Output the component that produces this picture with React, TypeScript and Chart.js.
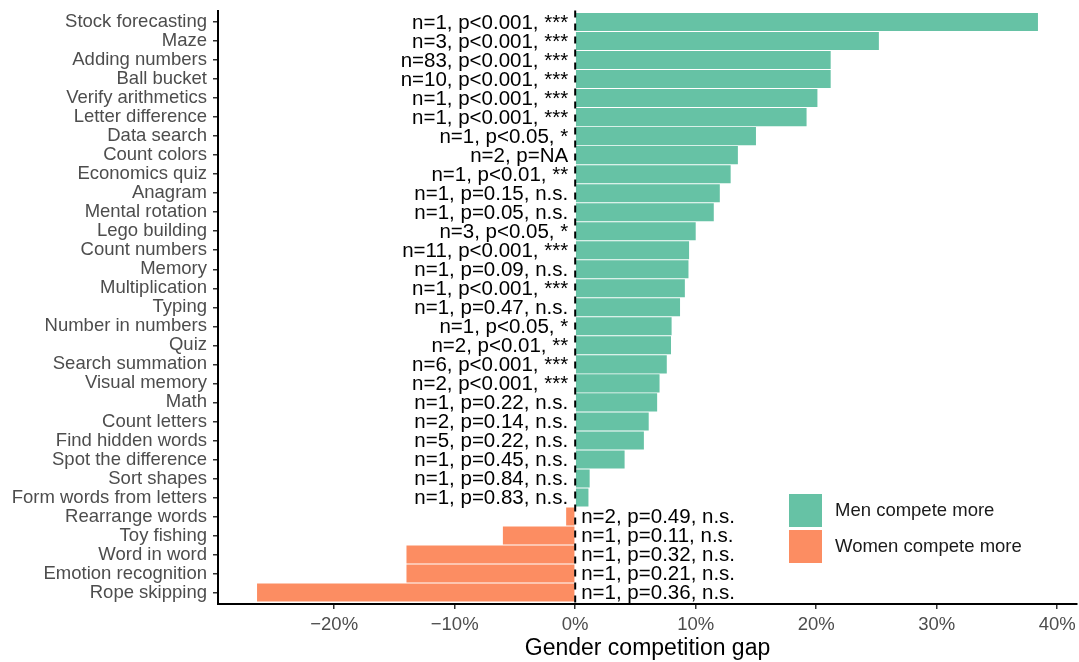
import React, { useEffect, useRef } from "react";
import { Chart, registerables } from "chart.js";

Chart.register(...registerables);

const TASKS = [
  "Stock forecasting", "Maze", "Adding numbers", "Ball bucket", "Verify arithmetics",
  "Letter difference", "Data search", "Count colors", "Economics quiz", "Anagram",
  "Mental rotation", "Lego building", "Count numbers", "Memory", "Multiplication",
  "Typing", "Number in numbers", "Quiz", "Search summation", "Visual memory",
  "Math", "Count letters", "Find hidden words", "Spot the difference", "Sort shapes",
  "Form words from letters", "Rearrange words", "Toy fishing", "Word in word",
  "Emotion recognition", "Rope skipping",
];

const GAPS = [
  38.4, 25.2, 21.2, 21.2, 20.1,
  19.2, 15.0, 13.5, 12.9, 12.0,
  11.5, 10.0, 9.45, 9.4, 9.1,
  8.7, 8.0, 7.95, 7.6, 7.0,
  6.8, 6.1, 5.7, 4.1, 1.2,
  1.1, -0.75, -6.0, -14.0,
  -14.0, -26.4,
];

const N_STUDIES = [
  1, 3, 83, 10, 1,
  1, 1, 2, 1, 1,
  1, 3, 11, 1, 1,
  1, 1, 2, 6, 2,
  1, 2, 5, 1, 1,
  1, 2, 1, 1,
  1, 1,
];

const P_LABELS = [
  "p<0.001", "p<0.001", "p<0.001", "p<0.001", "p<0.001",
  "p<0.001", "p<0.05", "p=NA", "p<0.01", "p=0.15",
  "p=0.05", "p<0.05", "p<0.001", "p=0.09", "p<0.001",
  "p=0.47", "p<0.05", "p<0.01", "p<0.001", "p<0.001",
  "p=0.22", "p=0.14", "p=0.22", "p=0.45", "p=0.84",
  "p=0.83", "p=0.49", "p=0.11", "p=0.32",
  "p=0.21", "p=0.36",
];

const SIG_LABELS = [
  "***", "***", "***", "***", "***",
  "***", "*", "", "**", "n.s.",
  "n.s.", "*", "***", "n.s.", "***",
  "n.s.", "*", "**", "***", "***",
  "n.s.", "n.s.", "n.s.", "n.s.", "n.s.",
  "n.s.", "n.s.", "n.s.", "n.s.",
  "n.s.", "n.s.",
];

const X_TICKS = [-20, -10, 0, 10, 20, 30, 40];
const LEGEND_LABELS = ["Men compete more", "Women compete more"];
const X_TITLE = "Gender competition gap";

const GREEN = "#66C2A5";
const ORANGE = "#FC8D62";
const FONT = "'Liberation Sans', Arial, Helvetica, sans-serif";

const annotationPlugin = {
  id: "annotations",
  afterDatasetsDraw(chart: any) {
    const { ctx, chartArea, scales } = chart;
    const xs = scales.x;
    const ys = scales.y;
    const x0 = xs.getPixelForValue(0);
    ctx.save();
    // dashed zero line
    ctx.beginPath();
    ctx.setLineDash([7, 6]);
    ctx.lineWidth = 2;
    ctx.strokeStyle = "#000000";
    ctx.moveTo(x0, chartArea.top);
    ctx.lineTo(x0, chartArea.bottom);
    ctx.stroke();
    ctx.setLineDash([]);
    // text labels
    ctx.font = `20.5px ${FONT}`;
    ctx.fillStyle = "#000000";
    ctx.textBaseline = "middle";
    GAPS.forEach((g, i) => {
      const parts = [`n=${N_STUDIES[i]}`, P_LABELS[i]];
      if (SIG_LABELS[i]) parts.push(SIG_LABELS[i]);
      const text = parts.join(", ");
      const y = ys.getPixelForValue(i) + 1;
      if (g >= 0) {
        ctx.textAlign = "right";
        ctx.fillText(text, x0 - 7, y);
      } else {
        ctx.textAlign = "left";
        ctx.fillText(text, x0 + 6, y);
      }
    });
    // legend
    const colors = [GREEN, ORANGE];
    const lx = chartArea.right - 288;
    const ly = chartArea.bottom - 110;
    ctx.font = `18.5px ${FONT}`;
    ctx.textAlign = "left";
    LEGEND_LABELS.forEach((lab, i) => {
      const by = ly + i * 36;
      ctx.fillStyle = colors[i];
      ctx.fillRect(lx, by, 33, 33);
      ctx.fillStyle = "#1a1a1a";
      ctx.fillText(lab, lx + 46, by + 17);
    });
    ctx.restore();
  },
};

export default function App() {
  const canvasRef = useRef<HTMLCanvasElement | null>(null);

  useEffect(() => {
    const canvas = canvasRef.current;
    if (!canvas) return;
    const chart = new Chart(canvas, {
      type: "bar",
      data: {
        datasets: [
          {
            label: LEGEND_LABELS[0],
            data: GAPS.map((g, i) => ({ x: g, y: i })),
            backgroundColor: GAPS.map((g) => (g >= 0 ? GREEN : ORANGE)),
            borderWidth: 0,
            barPercentage: 0.95,
            categoryPercentage: 1,
          },
        ],
      },
      options: {
        indexAxis: "y",
        animation: false,
        responsive: false,
        devicePixelRatio: 1,
        layout: { padding: { left: 0, right: 2, top: 10.6, bottom: 0 } },
        plugins: {
          legend: { display: false },
          tooltip: { enabled: false },
        },
        scales: {
          y: {
            type: "linear",
            reverse: true,
            offset: false,
            min: -0.6,
            max: 30.6,
            afterBuildTicks: (axis: any) => {
              axis.ticks = TASKS.map((_, i) => ({ value: i }));
            },
            afterFit: (axis: any) => {
              axis.width = 218;
              axis.paddingTop = 0;
              axis.paddingBottom = 0;
            },
            ticks: {
              autoSkip: false,
              callback: (v: any) => TASKS[v as number],
              font: { family: FONT, size: 18.5 },
              color: "#4d4d4d",
              padding: 6,
            },
            grid: {
              display: true,
              offset: false,
              drawOnChartArea: false,
              drawTicks: true,
              tickLength: 5,
              color: "#333333",
              lineWidth: 1.5,
            },
            border: { display: true, color: "#000000", width: 2 },
          },
          x: {
            type: "linear",
            min: -29.64,
            max: 41.64,
            afterBuildTicks: (axis: any) => {
              axis.ticks = X_TICKS.map((v) => ({ value: v }));
            },
            afterFit: (axis: any) => {
              axis.height = 58;
              axis.paddingLeft = 0;
              axis.paddingRight = 0;
            },
            ticks: {
              autoSkip: false,
              maxRotation: 0,
              callback: (v: any) => (v < 0 ? "\u2212" + Math.abs(v) : String(v)) + "%",
              font: { family: FONT, size: 18.5 },
              color: "#4d4d4d",
              padding: 5,
            },
            grid: {
              display: true,
              drawOnChartArea: false,
              drawTicks: true,
              tickLength: 5,
              color: "#333333",
              lineWidth: 1.5,
            },
            border: { display: true, color: "#000000", width: 2 },
            title: {
              display: true,
              text: X_TITLE,
              color: "#000000",
              font: { family: FONT, size: 23 },
              padding: { top: 0, bottom: 0 },
            },
          },
        },
      },
      plugins: [annotationPlugin],
    });
    return () => chart.destroy();
  }, []);

  return (
    <div style={{ position: "absolute", left: 0, top: 0, width: 1079, height: 662, background: "#fff" }}>
      <canvas ref={canvasRef} width={1079} height={662} style={{ display: "block" }} />
    </div>
  );
}
